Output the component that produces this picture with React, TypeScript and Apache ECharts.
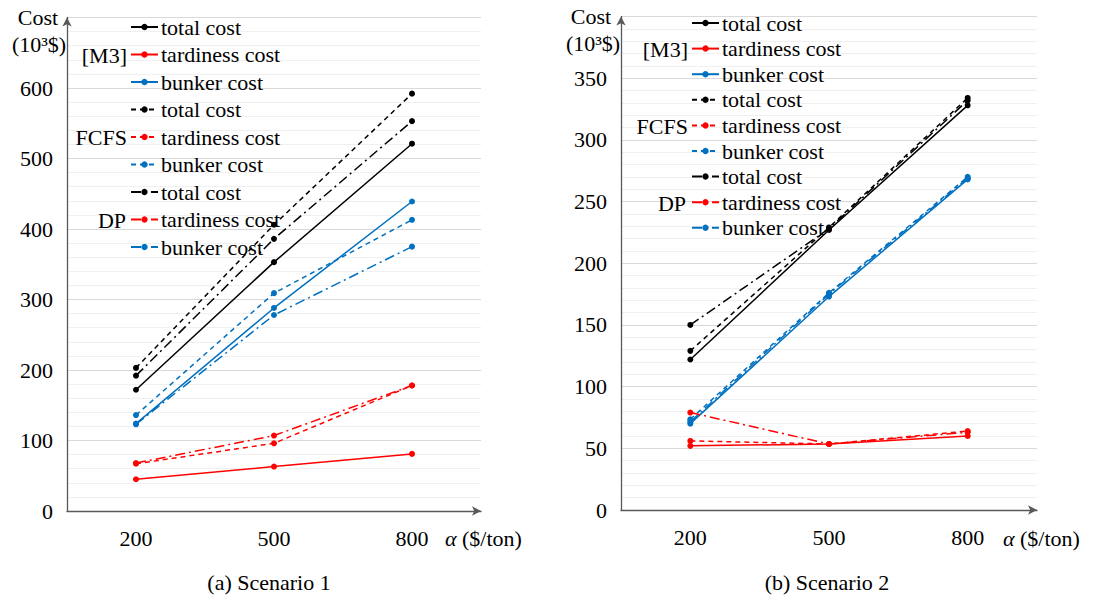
import React, { useEffect, useRef } from "react";
import * as echarts from "echarts";

const categories = ["200", "500", "800"];
const methods = ["[M3]", "FCFS", "DP"];
const costLabels = ["total cost", "tardiness cost", "bunker cost"];

// Scenario 1
const s1M3Total = [172, 353, 521];
const s1M3Tardiness = [45, 63, 81];
const s1M3Bunker = [124, 288, 439];
const s1FcfsTotal = [203, 406, 592];
const s1FcfsTardiness = [67, 96, 178];
const s1FcfsBunker = [136, 309, 413];
const s1DpTotal = [192, 386, 553];
const s1DpTardiness = [68, 107, 178];
const s1DpBunker = [123, 278, 375];

// Scenario 2
const s2M3Total = [122, 227, 328];
const s2M3Tardiness = [52, 53.5, 60];
const s2M3Bunker = [70, 173, 268];
const s2FcfsTotal = [129, 229, 334];
const s2FcfsTardiness = [56, 53.5, 64];
const s2FcfsBunker = [73.5, 176, 270];
const s2DpTotal = [150, 228, 332];
const s2DpTardiness = [79, 53.5, 63];
const s2DpBunker = [71.5, 175, 269];

const FONT = "Liberation Serif";
const COLORS = ["#000000", "#ff0000", "#0070c0"];
const DASHES: any[] = ["solid", [5, 4], [10, 4, 2, 4]];

export default function App() {
  const ref = useRef<HTMLDivElement>(null);
  useEffect(() => {
    if (!ref.current) return;
    const chart = echarts.init(ref.current, undefined, { renderer: "svg" });

    const s1 = [
      [s1M3Total, s1M3Tardiness, s1M3Bunker],
      [s1FcfsTotal, s1FcfsTardiness, s1FcfsBunker],
      [s1DpTotal, s1DpTardiness, s1DpBunker],
    ];
    const s2 = [
      [s2M3Total, s2M3Tardiness, s2M3Bunker],
      [s2FcfsTotal, s2FcfsTardiness, s2FcfsBunker],
      [s2DpTotal, s2DpTardiness, s2DpBunker],
    ];

    const series: any[] = [];
    const legendNames: string[][] = [[], []];
    [s1, s2].forEach((scen, si) => {
      scen.forEach((group, mi) => {
        group.forEach((vals, ci) => {
          const name = `S${si + 1}|${methods[mi]}|${costLabels[ci]}`;
          legendNames[si].push(name);
          series.push({
            name,
            type: "line",
            xAxisIndex: si,
            yAxisIndex: si,
            data: vals,
            symbol: "circle",
            symbolSize: 6,
            showSymbol: true,
            color: COLORS[ci],
            itemStyle: { color: COLORS[ci] },
            lineStyle: { color: COLORS[ci], width: 1.5, type: DASHES[mi] },
            emphasis: { disabled: true },
          });
        });
      });
    });

    const axisLineStyle = { color: "#595959", width: 1.3 };
    const mkX = (gi: number) => ({
      type: "category",
      gridIndex: gi,
      data: categories,
      boundaryGap: true,
      axisTick: { show: false },
      axisLine: {
        show: true,
        lineStyle: axisLineStyle,
        symbol: ["none", "arrow"],
        symbolSize: [7, 9],
      },
      axisLabel: { color: "#000", fontFamily: FONT, fontSize: 22, margin: 16 },
      splitLine: { show: false },
    });
    const mkY = (gi: number, max: number, interval: number) => ({
      type: "value",
      gridIndex: gi,
      min: 0,
      max,
      interval,
      axisTick: { show: false },
      axisLine: {
        show: true,
        lineStyle: axisLineStyle,
        symbol: ["none", "arrow"],
        symbolSize: [7, 9],
      },
      axisLabel: {
        color: "#000",
        fontFamily: FONT,
        fontSize: 22,
        margin: 14,
        showMaxLabel: false,
      },
      splitLine: { show: true, lineStyle: { color: "#d9d9d9", width: 1 } },
      minorTick: { show: false, splitNumber: 5 },
      minorSplitLine: { show: true, lineStyle: { color: "#f0f0f0", width: 1 } },
    });

    const mkLegend = (si: number, left: number, top: number, gap: number) => ({
      data: legendNames[si],
      orient: "vertical",
      left,
      top,
      padding: 0,
      itemGap: gap,
      itemWidth: 27,
      itemHeight: 8,
      selectedMode: false,
      formatter: (n: string) => n.split("|")[2],
      textStyle: { fontFamily: FONT, fontSize: 22, color: "#000", lineHeight: 22, padding: [0, 0, 0, -2] },
    });

    const txt = (text: string, x: number, y: number, align: string = "center", rich?: any) => ({
      type: "text",
      x,
      y,
      z: 100,
      style: {
        text,
        fontFamily: FONT,
        fontSize: 22,
        fill: "#000",
        align,
        verticalAlign: "middle",
        rich,
      },
    });
    const alphaRich = {
      i: { fontFamily: FONT, fontSize: 22, fontStyle: "italic", fill: "#000" },
      n: { fontFamily: FONT, fontSize: 22, fill: "#000" },
    };

    chart.setOption({
      animation: false,
      backgroundColor: "#ffffff",
      textStyle: { fontFamily: FONT },
      grid: [
        { left: 67, top: 17.5, width: 414, height: 493.5 },
        { left: 621, top: 16.5, width: 416, height: 493.5 },
      ],
      xAxis: [mkX(0), mkX(1)],
      yAxis: [mkY(0, 700, 100), mkY(1, 400, 50)],
      legend: [mkLegend(0, 130, 16, 5.5), mkLegend(1, 691, 12, 3.6)],
      series,
      graphic: [
        txt("Cost", 38, 17),
        txt("(10³$)", 39, 44),
        txt("Cost", 591, 16),
        txt("(10³$)", 593, 43),
        txt("[M3]", 127, 55, "right"),
        txt("FCFS", 127, 137, "right"),
        txt("DP", 126, 220, "right"),
        txt("[M3]", 688, 49, "right"),
        txt("FCFS", 688, 126, "right"),
        txt("DP", 686, 203, "right"),
        txt("{i|α} {n|($/ton)}", 445, 538, "left", alphaRich),
        txt("{i|α} {n|($/ton)}", 1003, 538, "left", alphaRich),
        txt("(a) Scenario 1", 269, 582),
        txt("(b) Scenario 2", 827, 582),
      ],
    });
    return () => chart.dispose();
  }, []);

  return (
    <div
      ref={ref}
      style={{ position: "absolute", left: 0, top: 0, width: 1116, height: 599, background: "#fff" }}
    />
  );
}
